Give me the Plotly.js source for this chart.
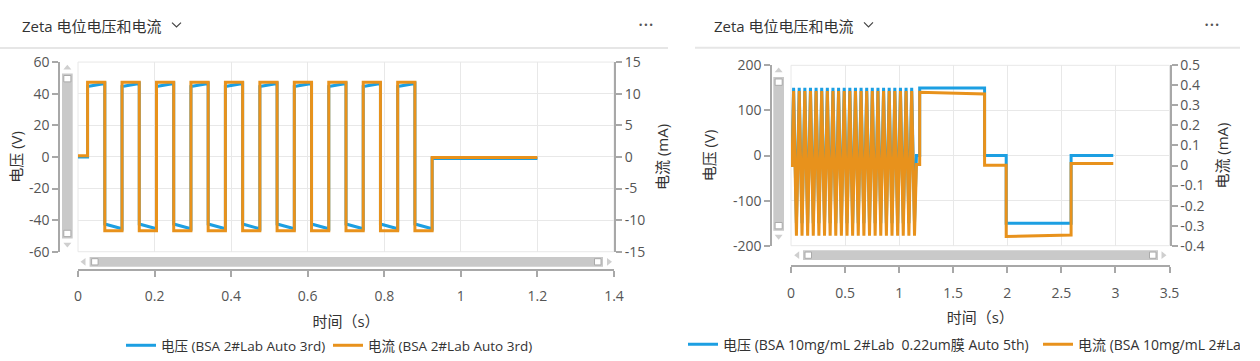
<!DOCTYPE html>
<html><head><meta charset="utf-8">
<script src="https://cdn.plot.ly/plotly-3.0.1.min.js"></script>
<style>
html,body{margin:0;padding:0;background:#fff;width:1260px;height:361px;overflow:hidden;}
#left{position:absolute;left:0;top:0;width:680px;height:361px;}
#rwrap{position:absolute;left:680px;top:0;width:560px;height:361px;overflow:hidden;}
#right{width:720px;height:361px;}
</style></head><body>
<div id="left"></div><div id="rwrap"><div id="right"></div></div>
<script>
// ---------------- DATA ----------------
const panelTitle = 'Zeta 电位电压和电流';
const xTitle = '时间（s）';
const vTitle = '电压 (V)';
const iTitle = '电流 (mA)';

// Left chart (BSA 2#Lab Auto 3rd)
const nameVL = '电压 (BSA 2#Lab Auto 3rd)';
const nameIL = '电流 (BSA 2#Lab Auto 3rd)';
const timeL = [0, 0.025,
  0.025, 0.070, 0.070, 0.115,
  0.115, 0.160, 0.160, 0.205,
  0.205, 0.250, 0.250, 0.295,
  0.295, 0.340, 0.340, 0.385,
  0.385, 0.430, 0.430, 0.475,
  0.475, 0.520, 0.520, 0.565,
  0.565, 0.610, 0.610, 0.655,
  0.655, 0.700, 0.700, 0.745,
  0.745, 0.790, 0.790, 0.835,
  0.835, 0.880, 0.880, 0.925,
  0.925, 1.2];
const voltL = [0, 0,
  44.5, 46.5, -42.5, -45.5,
  44.5, 46.5, -42.5, -45.5,
  44.5, 46.5, -42.5, -45.5,
  44.5, 46.5, -42.5, -45.5,
  44.5, 46.5, -42.5, -45.5,
  44.5, 46.5, -42.5, -45.5,
  44.5, 46.5, -42.5, -45.5,
  44.5, 46.5, -42.5, -45.5,
  44.5, 46.5, -42.5, -45.5,
  44.5, 46.5, -42.5, -45.5,
  -1, -1];
const currL = [0.2, 0.2,
  11.8, 11.8, -11.7, -11.7,
  11.8, 11.8, -11.7, -11.7,
  11.8, 11.8, -11.7, -11.7,
  11.8, 11.8, -11.7, -11.7,
  11.8, 11.8, -11.7, -11.7,
  11.8, 11.8, -11.7, -11.7,
  11.8, 11.8, -11.7, -11.7,
  11.8, 11.8, -11.7, -11.7,
  11.8, 11.8, -11.7, -11.7,
  11.8, 11.8, -11.7, -11.7,
  -0.1, -0.1];
const xTicksL = [0, 0.2, 0.4, 0.6, 0.8, 1, 1.2, 1.4];
const xTickTextL = ['0', '0.2', '0.4', '0.6', '0.8', '1', '1.2', '1.4'];
const vTicksL = [-60, -40, -20, 0, 20, 40, 60];
const vTickTextL = ['-60', '-40', '-20', '0', '20', '40', '60'];
const iTicksL = [-15, -10, -5, 0, 5, 10, 15];
const iTickTextL = ['-15', '-10', '-5', '0', '5', '10', '15'];

// Right chart (BSA 10mg/mL 2#Lab 0.22um膜 Auto 5th)
const nameVR = '电压 (BSA 10mg/mL 2#Lab  0.22um膜 Auto 5th)';
const nameIR = '电流 (BSA 10mg/mL 2#Lab  0.22um膜 Auto 5th)';
const timeR = [0, 0.010,
  0.024, 0.050, 0.076, 0.102, 0.128, 0.154, 0.180, 0.206,
  0.232, 0.258, 0.284, 0.310, 0.336, 0.362, 0.388, 0.414,
  0.440, 0.466, 0.492, 0.518, 0.544, 0.570, 0.596, 0.622,
  0.648, 0.674, 0.700, 0.726, 0.752, 0.778, 0.804, 0.830,
  0.856, 0.882, 0.908, 0.934, 0.960, 0.986, 1.012, 1.038,
  1.064, 1.090, 1.116, 1.142,
  1.160, 1.19, 1.19, 1.79, 1.79, 1.99, 1.99, 2.59, 2.59, 2.98];
const voltR = [0, 0,
  150, -150, 150, -150, 150, -150, 150, -150,
  150, -150, 150, -150, 150, -150, 150, -150,
  150, -150, 150, -150, 150, -150, 150, -150,
  150, -150, 150, -150, 150, -150, 150, -150,
  150, -150, 150, -150, 150, -150, 150, -150,
  150, -150, 150, -150,
  0, 0, 150, 150, 0, 0, -150, -150, 0, 0];
const currR = [0, 0,
  0.372, -0.35, 0.372, -0.35, 0.372, -0.35, 0.372, -0.35,
  0.372, -0.35, 0.372, -0.35, 0.372, -0.35, 0.372, -0.35,
  0.372, -0.35, 0.372, -0.35, 0.372, -0.35, 0.372, -0.35,
  0.372, -0.35, 0.372, -0.35, 0.372, -0.35, 0.372, -0.35,
  0.372, -0.35, 0.372, -0.35, 0.372, -0.35, 0.372, -0.35,
  0.372, -0.35, 0.372, -0.35,
  0.005, 0.005, 0.366, 0.357, 0.002, 0.002, -0.354, -0.347, 0.01, 0.01];
const xTicksR = [0, 0.5, 1, 1.5, 2, 2.5, 3, 3.5];
const xTickTextR = ['0', '0.5', '1', '1.5', '2', '2.5', '3', '3.5'];
const vTicksR = [-200, -100, 0, 100, 200];
const vTickTextR = ['-200', '-100', '0', '100', '200'];
const iTicksR = [-0.4, -0.3, -0.2, -0.1, 0, 0.1, 0.2, 0.3, 0.4, 0.5];
const iTickTextR = ['-0.4', '-0.3', '-0.2', '-0.1', '0', '0.1', '0.2', '0.3', '0.4', '0.5'];

// ---------------- STYLE ----------------
const FONT = '"Open Sans", "Noto Sans CJK SC", sans-serif';
const BLUE = '#1c9fe2';
const ORANGE = '#e8921c';
const AXC = '#a8a8a8';
const GRID = '#e8e8e8';
const BAR = '#c9c9c9';

function conv(W, H) { return { x: v => v / W, y: v => 1 - v / H }; }

function decor(P, c) {
  const shapes = [], ann = [];
  shapes.push({type: 'line', xref: 'paper', yref: 'paper', x0: P.x(c.sep[0]), x1: P.x(c.sep[1]), y0: P.y(c.sepY), y1: P.y(c.sepY), line: {color: '#e6e6e6', width: 2}});
  shapes.push({type: 'rect', xref: 'paper', yref: 'paper', layer: 'below', x0: P.x(c.plot[0]), x1: P.x(c.plot[1]), y0: P.y(c.plot[3]), y1: P.y(c.plot[2]), line: {color: GRID, width: 1}});
  const ch = c.chev;
  shapes.push({type: 'path', xref: 'paper', yref: 'paper', path: 'M' + P.x(ch[0]) + ',' + P.y(ch[1]) + ' L' + P.x(ch[0] + 4.5) + ',' + P.y(ch[1] + 4.5) + ' L' + P.x(ch[0] + 9) + ',' + P.y(ch[1]), line: {color: '#444', width: 1.2}});
  const v = c.vbar;
  shapes.push({type: 'rect', xref: 'paper', yref: 'paper', x0: P.x(v.x0), x1: P.x(v.x1), y0: P.y(v.y1), y1: P.y(v.y0), fillcolor: BAR, line: {width: 0}});
  [[v.y0 + 2, v.y0 + 8.5], [v.y1 - 8.5, v.y1 - 2]].forEach(s => shapes.push({type: 'rect', xref: 'paper', yref: 'paper', x0: P.x(v.x0 + 1.8), x1: P.x(v.x1 - 1.8), y0: P.y(s[1]), y1: P.y(s[0]), fillcolor: '#fff', line: {color: '#aaa', width: 1}}));
  const vm = (v.x0 + v.x1) / 2;
  shapes.push({type: 'path', xref: 'paper', yref: 'paper', path: 'M' + P.x(vm - 4) + ',' + P.y(v.up + 2.5) + ' L' + P.x(vm + 4) + ',' + P.y(v.up + 2.5) + ' L' + P.x(vm) + ',' + P.y(v.up - 2.5) + ' Z', fillcolor: '#cfcfcf', line: {width: 0}});
  shapes.push({type: 'path', xref: 'paper', yref: 'paper', path: 'M' + P.x(vm - 4) + ',' + P.y(v.down - 2.5) + ' L' + P.x(vm + 4) + ',' + P.y(v.down - 2.5) + ' L' + P.x(vm) + ',' + P.y(v.down + 2.5) + ' Z', fillcolor: '#cfcfcf', line: {width: 0}});
  const h = c.hbar;
  shapes.push({type: 'rect', xref: 'paper', yref: 'paper', x0: P.x(h.x0), x1: P.x(h.x1), y0: P.y(h.y1), y1: P.y(h.y0), fillcolor: BAR, line: {width: 0}});
  [[h.x0 + 2, h.x0 + 8.5], [h.x1 - 8.5, h.x1 - 2]].forEach(s => shapes.push({type: 'rect', xref: 'paper', yref: 'paper', x0: P.x(s[0]), x1: P.x(s[1]), y0: P.y(h.y1 - 1.8), y1: P.y(h.y0 + 1.8), fillcolor: '#fff', line: {color: '#aaa', width: 1}}));
  const hm = (h.y0 + h.y1) / 2;
  shapes.push({type: 'path', xref: 'paper', yref: 'paper', path: 'M' + P.x(h.left + 2.5) + ',' + P.y(hm - 4) + ' L' + P.x(h.left + 2.5) + ',' + P.y(hm + 4) + ' L' + P.x(h.left - 2.5) + ',' + P.y(hm) + ' Z', fillcolor: '#cfcfcf', line: {width: 0}});
  shapes.push({type: 'path', xref: 'paper', yref: 'paper', path: 'M' + P.x(h.right - 2.5) + ',' + P.y(hm - 4) + ' L' + P.x(h.right - 2.5) + ',' + P.y(hm + 4) + ' L' + P.x(h.right + 2.5) + ',' + P.y(hm) + ' Z', fillcolor: '#cfcfcf', line: {width: 0}});
  ann.push({xref: 'paper', yref: 'paper', x: P.x(c.title[0]), y: P.y(c.title[1]), xanchor: 'left', yanchor: 'middle', showarrow: false, text: panelTitle, font: {family: FONT, size: 15, color: '#333'}});
  ann.push({xref: 'paper', yref: 'paper', x: P.x(c.dots[0]), y: P.y(c.dots[1]), xanchor: 'center', yanchor: 'middle', showarrow: false, text: '···', font: {family: FONT, size: 20, color: '#555'}});
  return {shapes, ann};
}

function axisBase(extra) {
  return Object.assign({
    showline: true, linecolor: AXC, linewidth: 2,
    ticks: 'outside', ticklen: 6, tickwidth: 2, tickcolor: AXC,
    zeroline: false, tickfont: {family: FONT, size: 14, color: '#555'},
    tickmode: 'array'
  }, extra);
}

function build(el, W, cfg, data) {
  const P = conv(W, 361);
  const d = decor(P, cfg);
  const traces = [
    {x: data.t, y: data.v, name: data.nv, type: 'scatter', mode: 'lines', line: {color: BLUE, width: 3}, xaxis: 'x', yaxis: 'y', legendwidth: cfg.legW},
    {x: data.t, y: data.i, name: data.ni, type: 'scatter', mode: 'lines', line: {color: ORANGE, width: 3}, xaxis: 'x', yaxis: 'y2'}
  ];
  const layout = {
    width: W, height: 361, margin: {l: 0, r: 0, t: 0, b: 0},
    paper_bgcolor: '#fff', plot_bgcolor: '#fff',
    font: {family: FONT, size: 14, color: '#444'},
    showlegend: true,
    legend: {orientation: 'h', x: P.x(cfg.legend[0]), y: P.y(cfg.legend[1]), xanchor: 'left', yanchor: 'top', font: {family: FONT, size: cfg.legFont, color: '#333'}, bgcolor: 'rgba(0,0,0,0)', itemwidth: 30},
    xaxis: axisBase({domain: [P.x(cfg.plot[0]), P.x(cfg.plot[1])], range: data.xr, tickvals: data.xt, ticktext: data.xtt,
      anchor: 'free', position: P.y(cfg.xaxisY), showgrid: true, gridcolor: GRID, gridwidth: 1, ticklabelstandoff: 8,
      title: {text: xTitle, font: {family: FONT, size: 15, color: '#333'}, standoff: 11}}),
    yaxis: axisBase({domain: [P.y(cfg.plot[3]), P.y(cfg.plot[2])], range: data.vr, tickvals: data.vt, ticktext: data.vtt,
      anchor: 'free', position: P.x(cfg.yaxisX), side: 'left', showgrid: true, gridcolor: GRID, gridwidth: 1,
      title: {text: vTitle, font: {family: FONT, size: 15, color: '#333'}, standoff: cfg.stdL}}),
    yaxis2: axisBase({overlaying: 'y', side: 'right', anchor: 'x', range: data.ir, tickvals: data.it, ticktext: data.itt,
      showgrid: false,
      title: {text: iTitle, font: {family: FONT, size: 15, color: '#333'}, standoff: cfg.stdR}}),
    shapes: d.shapes, annotations: d.ann
  };
  Plotly.newPlot(el, traces, layout, {staticPlot: true, displayModeBar: false});
}

build('left', 680, {
  sep: [0, 668], sepY: 49, plot: [78, 614, 63.3, 256.7], chev: [172, 23],
  title: [20, 27], dots: [646, 25],
  vbar: {x0: 62, x1: 72.7, y0: 75, y1: 243.3, up: 68.5, down: 250},
  hbar: {x0: 89.6, x1: 603, y0: 262, y1: 272, left: 83, right: 609.5},
  xaxisY: 275, yaxisX: 59.3, legend: [121, 337], legFont: 13.5, legW: 162, stdL: 2, stdR: 13
}, {t: timeL, v: voltL, i: currL, nv: nameVL, ni: nameIL,
  xr: [0, 1.4], xt: xTicksL, xtt: xTickTextL,
  vr: [-60, 60], vt: vTicksL, vtt: vTickTextL,
  ir: [-15, 15], it: iTicksL, itt: iTickTextL});

build('right', 720, {
  sep: [15, 560], sepY: 49, plot: [111, 489.5, 67, 252], chev: [184, 23],
  title: [32, 27], dots: [532, 25],
  vbar: {x0: 93.3, x1: 104, y0: 79, y1: 236.7, up: 71.7, down: 243.3},
  hbar: {x0: 123, x1: 478, y0: 256.7, y1: 266.7, left: 116.7, right: 484},
  xaxisY: 273, yaxisX: 91.3, legend: [3, 337], legFont: 14, legW: 310, stdL: 13, stdR: 14
}, {t: timeR, v: voltR, i: currR, nv: nameVR, ni: nameIR,
  xr: [0, 3.5], xt: xTicksR, xtt: xTickTextR,
  vr: [-200, 200], vt: vTicksR, vtt: vTickTextR,
  ir: [-0.4, 0.5], it: iTicksR, itt: iTickTextR});
</script>
</body></html>
